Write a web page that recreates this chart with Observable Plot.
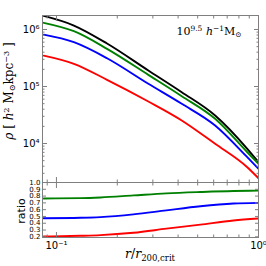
<!DOCTYPE html>
<html><head><meta charset="utf-8">
<script src="https://cdn.jsdelivr.net/npm/d3@7"></script>
<script src="https://cdn.jsdelivr.net/npm/@observablehq/plot@0.6"></script>
<style>
body{margin:0;background:#fff;}
#wrap{position:relative;width:266px;height:266px;overflow:hidden;background:#fff;}
#topPanel,#botPanel{position:absolute;left:0;}
#topPanel{top:0px;} #botPanel{top:182px;}
.lab{position:absolute;white-space:nowrap;color:#000;line-height:1;}
.serif{font-family:"DejaVu Serif","Liberation Serif",serif;}
sup,sub{font-size:68%;line-height:0;position:relative;vertical-align:baseline;}
sup{top:-0.5em;} sub{top:0.3em;}
</style></head><body>
<div id="wrap">
  <div id="topPanel"></div>
  <div id="botPanel"></div>
  <div class="lab serif" id="ylab" style="left:9px;top:91px;font-size:12px;transform:translate(-50%,-50%) rotate(-90deg);"><i>ρ</i> [ <i>h</i><sup>2</sup> M<sub>⊙</sub>kpc<sup>−3</sup> ]</div>
  <div class="lab" id="rlab" style="left:21px;top:211px;font-size:11px;font-family:'DejaVu Sans';transform:translate(-50%,-50%) rotate(-90deg);">ratio</div>
  <div class="lab serif" id="xlab" style="left:150px;top:254px;font-size:12.5px;transform:translate(-50%,-50%);"><i>r</i>/<i>r</i><sub>200,crit</sub></div>
  <div class="lab serif" id="ann" style="left:209px;top:31px;font-size:11px;transform:translate(-50%,-50%);">10<sup>9.5</sup> <i>h</i><sup>−1</sup>M<sub>⊙</sub></div>
</div>
<script>
// ---- data ----
const radius = [0.0865, 0.122, 0.178, 0.285, 0.417, 0.610, 0.880, 1.0];
const rhoBlack = [1.73e6, 1.175e6, 5.68e5, 1.91e5, 7.94e4, 3.10e4, 8.07e3, 4.70e3];
const rhoGreen = [1.31e6, 9.33e5, 4.58e5, 1.60e5, 6.76e4, 2.71e4, 7.03e3, 4.40e3];
const rhoBlue  = [8.11e5, 5.98e5, 3.13e5, 1.115e5, 4.97e4, 2.07e4, 5.75e3, 3.60e3];
const rhoRed   = [3.48e5, 2.50e5, 1.31e5, 5.46e4, 2.54e4, 9.89e3, 3.84e3, 2.46e3];

const ratioRadius = [0.0865, 0.1316, 0.1652, 0.2403, 0.35, 0.516, 0.752, 1.0];
const ratioGreen = [0.765, 0.77, 0.78, 0.81, 0.84, 0.86, 0.875, 0.88];
const ratioBlue  = [0.474, 0.48, 0.49, 0.53, 0.59, 0.65, 0.69, 0.70];
const ratioRed   = [0.204, 0.215, 0.225, 0.26, 0.32, 0.38, 0.44, 0.47];

const seriesNames = ["black", "green", "blue", "red"];
const seriesColors = ["#000000", "#008000", "#0000ff", "#ff0000"];

const yMajor = [1e4, 1e5, 1e6];
const yMajorLabels = ["10⁴", "10⁵", "10⁶"];
const yMinor = [3000,4000,5000,6000,7000,8000,9000,20000,30000,40000,50000,60000,70000,80000,90000,200000,300000,400000,500000,600000,700000,800000,900000];
const xMajor = [0.1, 1];
const xMajorLabels = ["10⁻¹", "10⁰"];
const xMinor = [0.09,0.2,0.3,0.4,0.5,0.6,0.7,0.8,0.9];
const ratioTicks = [0.2,0.3,0.4,0.5,0.6,0.7,0.8,0.9,1.0];
const ratioTickLabels = ["0.2","0.3","0.4","0.5","0.6","0.7","0.8","0.9","1.0"];

// ---- tables ----
const rhoSeries = [rhoBlack, rhoGreen, rhoBlue, rhoRed];
const profiles = [];
rhoSeries.forEach((arr, s) => arr.forEach((v, i) => profiles.push({r: radius[i], rho: v, s: seriesNames[s]})));
const ratioSeries = [ratioGreen, ratioBlue, ratioRed];
const ratioNames = ["green", "blue", "red"];
const ratios = [];
ratioSeries.forEach((arr, s) => arr.forEach((v, i) => ratios.push({r: ratioRadius[i], q: v, s: ratioNames[s]})));

const frameColor = "#7f7f7f";
const xDomain = [0.0853, 1.0];
const colorScale = {domain: seriesNames, range: seriesColors};
const fmtFrom = (vals, labels) => d => { const i = vals.findIndex(v => Math.abs(v - d) < 1e-9 * Math.max(1, Math.abs(v))); return i >= 0 ? labels[i] : ""; };
const blank = () => "";

const topPlot = Plot.plot({
  width: 266, height: 183, marginTop: 15, marginBottom: 1, marginLeft: 42, marginRight: 8,
  style: {fontFamily: "DejaVu Sans", fontSize: "10px", background: "transparent", overflow: "visible"},
  x: {type: "log", domain: xDomain},
  y: {type: "log", domain: [2070, 1.76e6]},
  color: colorScale,
  marks: [
    Plot.lineY(profiles, {x: "r", y: "rho", z: "s", stroke: "s", strokeWidth: 1.9, curve: "monotone-x", clip: true}),
    Plot.axisY({anchor: "left", ticks: yMajor, tickSize: 0, tickPadding: 3, tickFormat: fmtFrom(yMajor, yMajorLabels), label: null, fontSize: 10}),
    Plot.axisY({anchor: "left", ticks: yMajor, tickSize: -5, tickFormat: blank, label: null, stroke: frameColor}),
    Plot.axisY({anchor: "left", ticks: yMinor, tickSize: -2.5, tickFormat: blank, label: null, stroke: frameColor}),
    Plot.axisY({anchor: "right", ticks: yMajor, tickSize: -5, tickFormat: blank, label: null, stroke: frameColor}),
    Plot.axisY({anchor: "right", ticks: yMinor, tickSize: -2.5, tickFormat: blank, label: null, stroke: frameColor}),
    Plot.axisX({anchor: "top", ticks: xMajor, tickSize: -5, tickFormat: blank, label: null, stroke: frameColor}),
    Plot.axisX({anchor: "top", ticks: xMinor, tickSize: -2.5, tickFormat: blank, label: null, stroke: frameColor}),
    Plot.axisX({anchor: "bottom", ticks: xMajor, tickSize: -5, tickFormat: blank, label: null, stroke: frameColor}),
    Plot.axisX({anchor: "bottom", ticks: xMinor, tickSize: -2.5, tickFormat: blank, label: null, stroke: frameColor}),
    Plot.frame({stroke: frameColor, strokeWidth: 1})
  ]
});
document.getElementById("topPanel").appendChild(topPlot);

const botPlot = Plot.plot({
  width: 266, height: 84, marginTop: 0, marginBottom: 29, marginLeft: 42, marginRight: 8,
  style: {fontFamily: "DejaVu Sans", fontSize: "10px", background: "transparent", overflow: "visible"},
  x: {type: "log", domain: xDomain},
  y: {domain: [0.19, 1.0]},
  color: colorScale,
  marks: [
    Plot.lineY(ratios, {x: "r", y: "q", z: "s", stroke: "s", strokeWidth: 1.9, curve: "monotone-x", clip: true}),
    Plot.axisY({anchor: "left", ticks: ratioTicks, tickSize: 0, tickPadding: 2, tickFormat: fmtFrom(ratioTicks, ratioTickLabels), label: null, fontSize: 7}),
    Plot.axisY({anchor: "left", ticks: ratioTicks, tickSize: -4, tickFormat: blank, label: null, stroke: frameColor}),
    Plot.axisY({anchor: "right", ticks: ratioTicks, tickSize: -4, tickFormat: blank, label: null, stroke: frameColor}),
    Plot.axisX({anchor: "bottom", ticks: xMajor, tickSize: 0, tickPadding: 4, tickFormat: fmtFrom(xMajor, xMajorLabels), label: null, fontSize: 10}),
    Plot.axisX({anchor: "top", ticks: xMajor, tickSize: -5, tickFormat: blank, label: null, stroke: frameColor}),
    Plot.axisX({anchor: "top", ticks: xMinor, tickSize: -2.5, tickFormat: blank, label: null, stroke: frameColor}),
    Plot.axisX({anchor: "bottom", ticks: xMajor, tickSize: -5, tickFormat: blank, label: null, stroke: frameColor}),
    Plot.axisX({anchor: "bottom", ticks: xMinor, tickSize: -2.5, tickFormat: blank, label: null, stroke: frameColor}),
    Plot.frame({stroke: frameColor, strokeWidth: 1})
  ]
});
document.getElementById("botPanel").appendChild(botPlot);
</script>
</body></html>
